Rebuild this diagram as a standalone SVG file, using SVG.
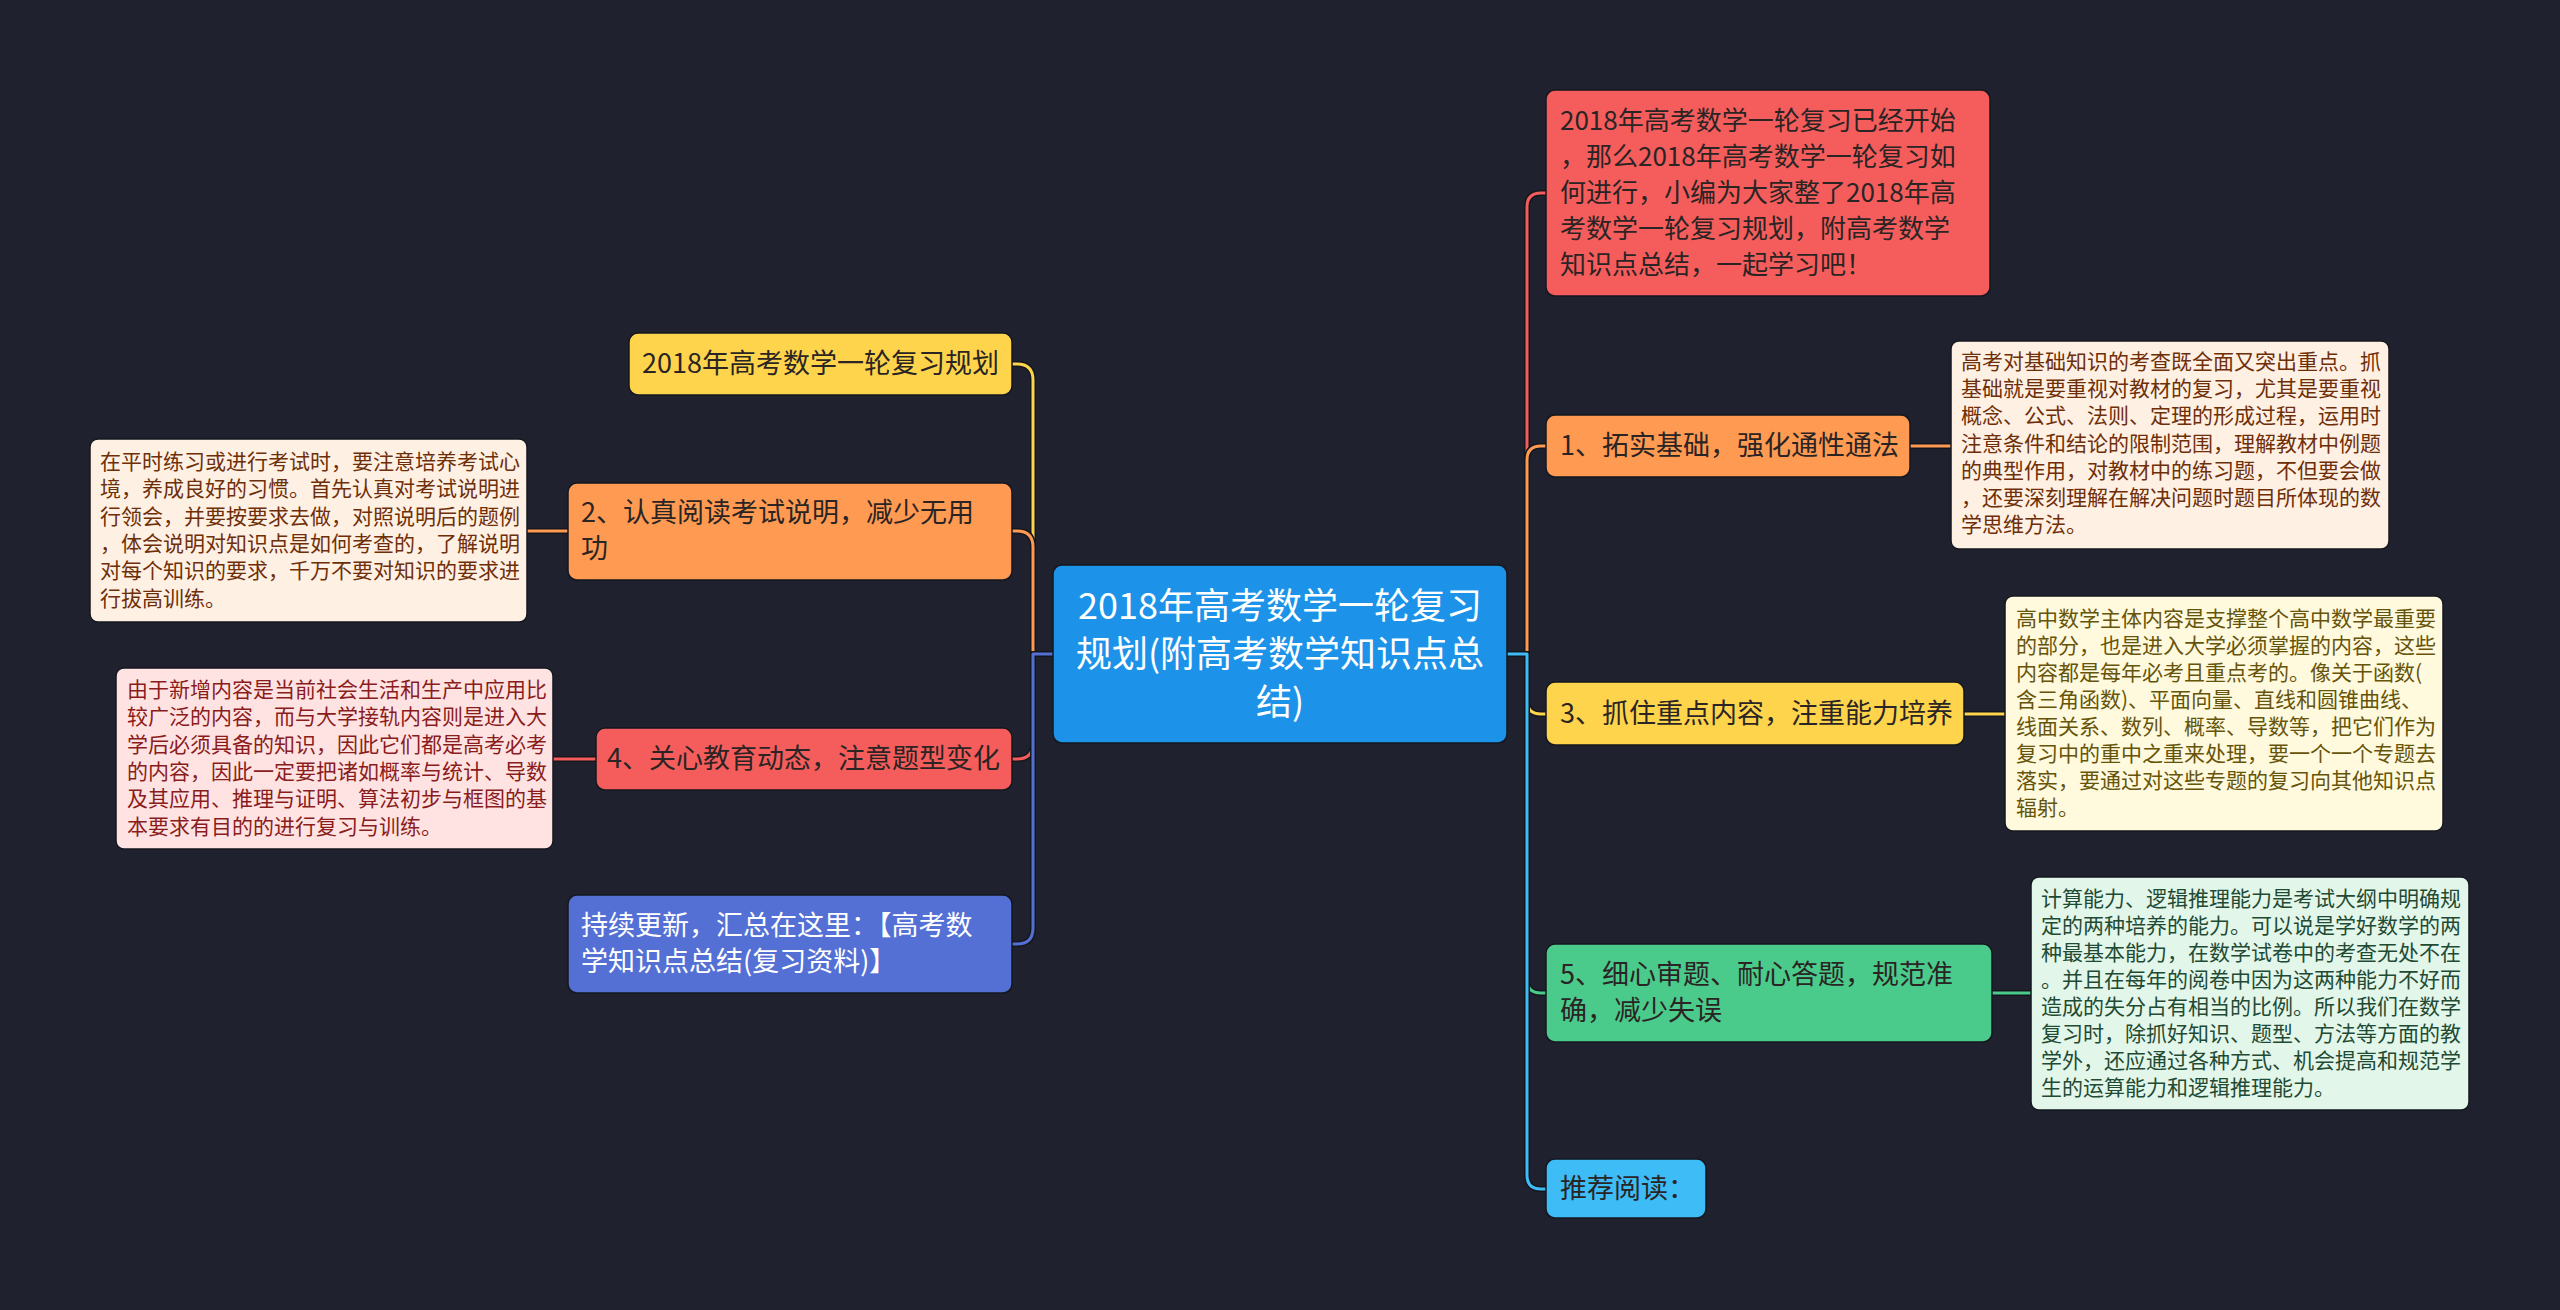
<svg xmlns="http://www.w3.org/2000/svg" width="2560" height="1310" viewBox="0 0 2560 1310">
<style>
text{font-family:"Noto Sans CJK SC","Noto Sans",sans-serif;}
.t26{font-size:27px;fill:#2a2424;}
.tr{font-size:26px;fill:#2a2424;}
.tc{font-size:36px;fill:#ffffff;}
.tw{font-size:27px;fill:#ffffff;}
.d{font-size:21px;}
.under{fill:none;stroke:#14161e;stroke-width:6;stroke-linejoin:round;}
.ln{fill:none;stroke-width:3;stroke-linejoin:round;}
.box{stroke:#15171f;stroke-width:1.5;}
</style>
<rect x="0" y="0" width="2560" height="1310" fill="#1f222e"/>

<g id="connectors">
  <path class="under" d="M1053 654 H1033 V380 Q1033 364 1017 364 H1012"/>
  <path class="ln" stroke="#fed44c" d="M1053 654 H1033 V380 Q1033 364 1017 364 H1012"/>
  <path class="under" d="M1053 654 H1033 V547 Q1033 531 1017 531 H1012"/>
  <path class="ln" stroke="#ff9a52" d="M1053 654 H1033 V547 Q1033 531 1017 531 H1012"/>
  <path class="under" d="M1053 654 H1033 V743 Q1033 759 1017 759 H1012"/>
  <path class="ln" stroke="#f55d5c" d="M1053 654 H1033 V743 Q1033 759 1017 759 H1012"/>
  <path class="under" d="M1053 654 H1033 V928 Q1033 944 1017 944 H1012"/>
  <path class="ln" stroke="#5470d5" d="M1053 654 H1033 V928 Q1033 944 1017 944 H1012"/>
  <path class="under" d="M1507 654 H1527 V207 Q1527 193 1541 193 H1546"/>
  <path class="ln" stroke="#f55d5c" d="M1507 654 H1527 V207 Q1527 193 1541 193 H1546"/>
  <path class="under" d="M1507 654 H1527 V460 Q1527 446 1541 446 H1546"/>
  <path class="ln" stroke="#ff9a52" d="M1507 654 H1527 V460 Q1527 446 1541 446 H1546"/>
  <path class="under" d="M1507 654 H1527 V700 Q1527 714 1541 714 H1546"/>
  <path class="ln" stroke="#fed44c" d="M1507 654 H1527 V700 Q1527 714 1541 714 H1546"/>
  <path class="under" d="M1507 654 H1527 V979 Q1527 993 1541 993 H1546"/>
  <path class="ln" stroke="#4bcb8b" d="M1507 654 H1527 V979 Q1527 993 1541 993 H1546"/>
  <path class="under" d="M1507 654 H1527 V1175 Q1527 1189 1541 1189 H1546"/>
  <path class="ln" stroke="#3dbcf6" d="M1507 654 H1527 V1175 Q1527 1189 1541 1189 H1546"/>
  <path class="under" d="M1910 446 H1951"/>
  <path class="ln" stroke="#ff9a52" d="M1910 446 H1951"/>
  <path class="under" d="M1964 714 H2005"/>
  <path class="ln" stroke="#fed44c" d="M1964 714 H2005"/>
  <path class="under" d="M1992 993 H2031"/>
  <path class="ln" stroke="#4bcb8b" d="M1992 993 H2031"/>
  <path class="under" d="M568 531 H527"/>
  <path class="ln" stroke="#ff9a52" d="M568 531 H527"/>
  <path class="under" d="M596 759 H553"/>
  <path class="ln" stroke="#f55d5c" d="M596 759 H553"/>
</g>

<g id="center">
  <rect class="box" x="1053" y="565" width="454" height="178" rx="9" fill="#1c93e8"/>
  <text class="tc" text-anchor="middle"><tspan x="1280" y="619">2018年高考数学一轮复习</tspan><tspan x="1280" y="667">规划(附高考数学知识点总</tspan><tspan x="1280" y="715">结)</tspan></text>
</g>

<g id="intro">
  <rect class="box" x="1546" y="90" width="444" height="206" rx="9" fill="#f55d5c"/>
  <text class="tr"><tspan x="1560" y="130">2018年高考数学一轮复习已经开始</tspan><tspan x="1560" y="166">，那么2018年高考数学一轮复习如</tspan><tspan x="1560" y="202">何进行，小编为大家整了2018年高</tspan><tspan x="1560" y="238">考数学一轮复习规划，附高考数学</tspan><tspan x="1560" y="274">知识点总结，一起学习吧！</tspan></text>
</g>

<g id="n1">
  <rect class="box" x="1546" y="415" width="364" height="62" rx="9" fill="#ff9a52"/>
  <text class="t26" x="1560" y="455">1、拓实基础，强化通性通法</text>
</g>
<g id="d1">
  <rect class="box" x="1951" y="341" width="438" height="208" rx="8" fill="#fff0e4"/>
  <text class="d" fill="#6e2f08"><tspan x="1961" y="369">高考对基础知识的考查既全面又突出重点。抓</tspan><tspan x="1961" y="396">基础就是要重视对教材的复习，尤其是要重视</tspan><tspan x="1961" y="423">概念、公式、法则、定理的形成过程，运用时</tspan><tspan x="1961" y="451">注意条件和结论的限制范围，理解教材中例题</tspan><tspan x="1961" y="478">的典型作用，对教材中的练习题，不但要会做</tspan><tspan x="1961" y="505">，还要深刻理解在解决问题时题目所体现的数</tspan><tspan x="1961" y="532">学思维方法。</tspan></text>
</g>

<g id="n3">
  <rect class="box" x="1546" y="682" width="418" height="63" rx="9" fill="#fed44c"/>
  <text class="t26" x="1560" y="723">3、抓住重点内容，注重能力培养</text>
</g>
<g id="d3">
  <rect class="box" x="2005" y="596" width="438" height="235" rx="8" fill="#fff9dd"/>
  <text class="d" fill="#66540a"><tspan x="2016" y="626">高中数学主体内容是支撑整个高中数学最重要</tspan><tspan x="2016" y="653">的部分，也是进入大学必须掌握的内容，这些</tspan><tspan x="2016" y="680">内容都是每年必考且重点考的。像关于函数(</tspan><tspan x="2016" y="707">含三角函数)、平面向量、直线和圆锥曲线、</tspan><tspan x="2016" y="734">线面关系、数列、概率、导数等，把它们作为</tspan><tspan x="2016" y="761">复习中的重中之重来处理，要一个一个专题去</tspan><tspan x="2016" y="788">落实，要通过对这些专题的复习向其他知识点</tspan><tspan x="2016" y="815">辐射。</tspan></text>
</g>

<g id="n5">
  <rect class="box" x="1546" y="944" width="446" height="98" rx="9" fill="#4bcb8b"/>
  <text class="t26"><tspan x="1560" y="984">5、细心审题、耐心答题，规范准</tspan><tspan x="1560" y="1020">确，减少失误</tspan></text>
</g>
<g id="d5">
  <rect class="box" x="2031" y="877" width="438" height="233" rx="8" fill="#e2f6ea"/>
  <text class="d" fill="#1f4a33"><tspan x="2041" y="906">计算能力、逻辑推理能力是考试大纲中明确规</tspan><tspan x="2041" y="933">定的两种培养的能力。可以说是学好数学的两</tspan><tspan x="2041" y="960">种最基本能力，在数学试卷中的考查无处不在</tspan><tspan x="2041" y="987">。并且在每年的阅卷中因为这两种能力不好而</tspan><tspan x="2041" y="1014">造成的失分占有相当的比例。所以我们在数学</tspan><tspan x="2041" y="1041">复习时，除抓好知识、题型、方法等方面的教</tspan><tspan x="2041" y="1068">学外，还应通过各种方式、机会提高和规范学</tspan><tspan x="2041" y="1095">生的运算能力和逻辑推理能力。</tspan></text>
</g>

<g id="n6">
  <rect class="box" x="1546" y="1159" width="160" height="59" rx="9" fill="#3dbcf6"/>
  <text class="t26" x="1560" y="1198">推荐阅读：</text>
</g>

<g id="l0">
  <rect class="box" x="629" y="333" width="383" height="62" rx="9" fill="#fed44c"/>
  <text class="t26" x="642" y="373">2018年高考数学一轮复习规划</text>
</g>

<g id="n2">
  <rect class="box" x="568" y="483" width="444" height="97" rx="9" fill="#ff9a52"/>
  <text class="t26"><tspan x="581" y="522">2、认真阅读考试说明，减少无用</tspan><tspan x="581" y="558">功</tspan></text>
</g>
<g id="d2">
  <rect class="box" x="90" y="439" width="437" height="183" rx="8" fill="#fff0e4"/>
  <text class="d" fill="#6e2f08"><tspan x="100" y="469">在平时练习或进行考试时，要注意培养考试心</tspan><tspan x="100" y="496">境，养成良好的习惯。首先认真对考试说明进</tspan><tspan x="100" y="524">行领会，并要按要求去做，对照说明后的题例</tspan><tspan x="100" y="551">，体会说明对知识点是如何考查的，了解说明</tspan><tspan x="100" y="578">对每个知识的要求，千万不要对知识的要求进</tspan><tspan x="100" y="606">行拔高训练。</tspan></text>
</g>

<g id="n4">
  <rect class="box" x="596" y="728" width="416" height="62" rx="9" fill="#f55d5c"/>
  <text class="t26" x="607" y="768">4、关心教育动态，注意题型变化</text>
</g>
<g id="d4">
  <rect class="box" x="116" y="668" width="437" height="181" rx="8" fill="#ffe3e3"/>
  <text class="d" fill="#8a1c1c"><tspan x="127" y="697">由于新增内容是当前社会生活和生产中应用比</tspan><tspan x="127" y="724">较广泛的内容，而与大学接轨内容则是进入大</tspan><tspan x="127" y="752">学后必须具备的知识，因此它们都是高考必考</tspan><tspan x="127" y="779">的内容，因此一定要把诸如概率与统计、导数</tspan><tspan x="127" y="806">及其应用、推理与证明、算法初步与框图的基</tspan><tspan x="127" y="834">本要求有目的的进行复习与训练。</tspan></text>
</g>

<g id="n7">
  <rect class="box" x="568" y="895" width="444" height="98" rx="9" fill="#5470d5"/>
  <text class="tw"><tspan x="581" y="935">持续更新，汇总在这里：【高考数</tspan><tspan x="581" y="971">学知识点总结(复习资料)】</tspan></text>
</g>
</svg>
